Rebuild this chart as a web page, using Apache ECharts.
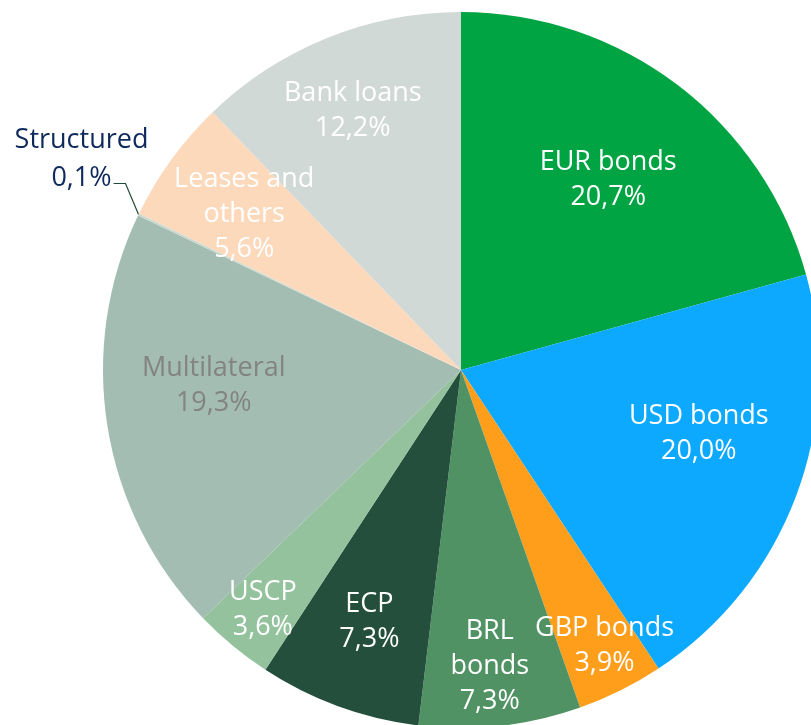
<!DOCTYPE html>
<html>
<head>
<meta charset="utf-8">
<script src="https://cdn.jsdelivr.net/npm/echarts@6/dist/echarts.min.js"></script>
<style>
  html, body { margin: 0; padding: 0; background: #ffffff; }
  #chart { width: 811px; height: 725px; }
</style>
</head>
<body>
<div id="chart"></div>
<script>
// Funding mix by instrument (share of total, %)
const categories = ['EUR bonds', 'USD bonds', 'GBP bonds', 'BRL bonds', 'ECP', 'USCP',
                    'Multilateral', 'Structured', 'Leases and others', 'Bank loans'];
const shares = [20.7, 20.0, 3.9, 7.3, 7.3, 3.6, 19.3, 0.1, 5.6, 12.2];

// How each name is wrapped inside its slice
const labelText = {
  'BRL bonds': 'BRL\nbonds',
  'Leases and others': 'Leases and\nothers'
};

// Slice colours
const sliceColor = {
  'EUR bonds': '#00A443',
  'USD bonds': '#0DA9FF',
  'GBP bonds': '#FF9E1B',
  'BRL bonds': '#519265',
  'ECP': '#234F3C',
  'USCP': '#93C29D',
  'Multilateral': '#A3BDB2',
  'Structured': '#C9D9D2',
  'Leases and others': '#FDD9BC',
  'Bank loans': '#D1D9D6'
};

// Distance of each inside label from the centre, as a fraction of the radius
const labelRing = {
  'EUR bonds': 0.68, 'USD bonds': 0.68, 'Multilateral': 0.68,
  'ECP': 0.74, 'Leases and others': 0.74,
  'Bank loans': 0.80, 'BRL bonds': 0.80,
  'GBP bonds': 0.86, 'USCP': 0.86
};

// Small nudges for labels that sit off their slice's mid-line
const labelNudge = {
  'USD bonds': [7, -23],
  'Multilateral': [-4, -24],
  'Bank loans': [0, 9],
  'EUR bonds': [-2, 6],
  'GBP bonds': [5, -3],
  'BRL bonds': [-3, 9],
  'Leases and others': [0, 2],
  'Structured': [0, 0]
};

const labelColor = { 'Multilateral': '#838383' };

const CX = 461, CY = 370, R = 358;
const FONT = '"Open Sans", Lato, sans-serif';
const FS = 27;

const fmt = v => v.toFixed(1).replace('.', ',') + '%';

const pieData = categories.map((name, i) => ({
  name: name,
  value: shares[i],
  itemStyle: { color: sliceColor[name] }
}));

const STRUCT = categories.indexOf('Structured');

// Main pie; only the tiny slice carries an outside label with a leader line
const mainSeries = {
  type: 'pie',
  center: [CX, CY],
  radius: [0, R],
  startAngle: 90,
  clockwise: true,
  silent: true,
  avoidLabelOverlap: false,
  emphasis: { disabled: true },
  labelLayout: function (p) {
    if (p.dataIndex !== STRUCT || !p.labelLinePoints) return {};
    // leader line: from the slice edge, up, then left to the label
    const p0 = p.labelLinePoints[0];
    const p1 = [p0[0] - 13, p0[1] - 31];
    const p2 = [p1[0] - 12, p1[1]];
    return {
      x: p0[0] - 57,
      y: p0[1] - 55,
      align: 'center',
      verticalAlign: 'middle',
      labelLinePoints: [p0, p1, p2]
    };
  },
  data: pieData.map(d => Object.assign({}, d, d.name === 'Structured' ? {
    label: {
      show: true,
      position: 'outside',
      formatter: p => '{n|' + p.name + '}\n{n|' + fmt(p.value) + '}',
      rich: {
        n: { fontFamily: FONT, fontSize: FS, lineHeight: 38, color: '#0E2A5C', align: 'center' }
      }
    },
    labelLine: {
      show: true,
      length: 20,
      length2: 12,
      smooth: false,
      lineStyle: { color: '#1F4A35', width: 1.2 }
    }
  } : { label: { show: false }, labelLine: { show: false } }))
};

// Transparent copies of the pie carry the inside labels at their own radii
const rings = [...new Set(Object.values(labelRing))];
const labelSeries = rings.map(k => ({
  type: 'pie',
  center: [CX, CY],
  radius: [0, 2 * k * R],
  startAngle: 90,
  clockwise: true,
  silent: true,
  avoidLabelOverlap: false,
  emphasis: { disabled: true },
  itemStyle: { color: 'rgba(0,0,0,0)', borderWidth: 0 },
  labelLine: { show: false },
  data: categories.map((name, i) => ({
    name: name,
    value: shares[i],
    label: {
      show: labelRing[name] === k,
      position: 'inside',
      offset: labelNudge[name] || [0, 0],
      formatter: (labelText[name] || name) + '\n' + fmt(shares[i]),
      fontFamily: FONT,
      fontSize: FS,
      lineHeight: 35,
      color: labelColor[name] || '#FFFFFF',
      align: 'center'
    }
  }))
}));

const chart = echarts.init(document.getElementById('chart'), null, { renderer: 'canvas' });
chart.setOption({
  animation: false,
  backgroundColor: '#ffffff',
  series: [mainSeries].concat(labelSeries)
});
</script>
</body>
</html>
